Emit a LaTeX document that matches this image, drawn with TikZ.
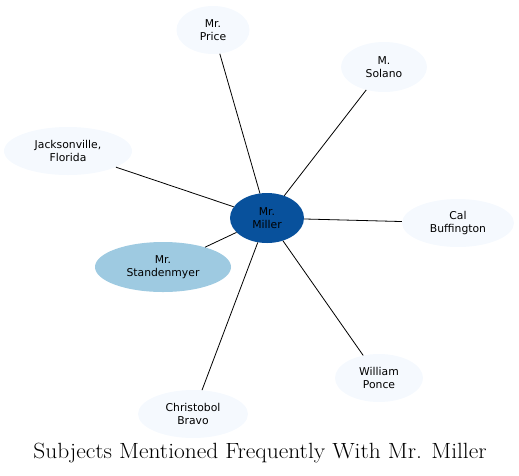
\documentclass[tikz,border=0pt]{standalone}
\usepackage{fontspec}
\newfontfamily\nodefont{DejaVu Sans}
\usetikzlibrary{shapes.geometric}
\definecolor{dark}{HTML}{08519C}
\definecolor{mid}{HTML}{9ECAE1}
\definecolor{pale}{HTML}{F5F9FE}
\tikzset{
  ent/.style={ellipse, inner sep=0pt, fill=pale, align=center, font=\nodefont\fontsize{10.8}{13}\selectfont},
  link/.style={draw=black, line width=0.8pt}
}
\begin{document}
\begin{tikzpicture}[x=1pt,y=-1pt]
\useasboundingbox (0,0) rectangle (519,475);
\node[ent, fill=dark, minimum width=74pt, minimum height=50pt] (miller) at (267,218) {Mr.\\Miller};
\node[ent, minimum width=73pt, minimum height=48pt] (price) at (213,30) {Mr.\\Price};
\node[ent, minimum width=86pt, minimum height=50pt] (solano) at (384,67) {M.\\Solano};
\node[ent, minimum width=128pt, minimum height=48pt] (jack) at (68,151) {Jacksonville,\\Florida};
\node[ent, fill=mid, minimum width=136pt, minimum height=50pt] (stand) at (163,267) {Mr.\\Standenmyer};
\node[ent, minimum width=112pt, minimum height=48pt] (cal) at (458,223) {Cal\\Buffington};
\node[ent, minimum width=88pt, minimum height=48pt] (ponce) at (379,378) {William\\Ponce};
\node[ent, minimum width=110pt, minimum height=48pt] (bravo) at (193,414) {Christobol\\Bravo};
\draw[link] (miller) -- (price);
\draw[link] (miller) -- (solano);
\draw[link] (miller) -- (jack);
\draw[link] (miller) -- (stand);
\draw[link] (miller) -- (cal);
\draw[link] (miller) -- (ponce);
\draw[link] (miller) -- (bravo);
\node[font=\fontsize{22}{26}\selectfont, xscale=1.065] (title) at (260,453) {Subjects Mentioned Frequently With Mr. Miller};
\end{tikzpicture}
\end{document}
